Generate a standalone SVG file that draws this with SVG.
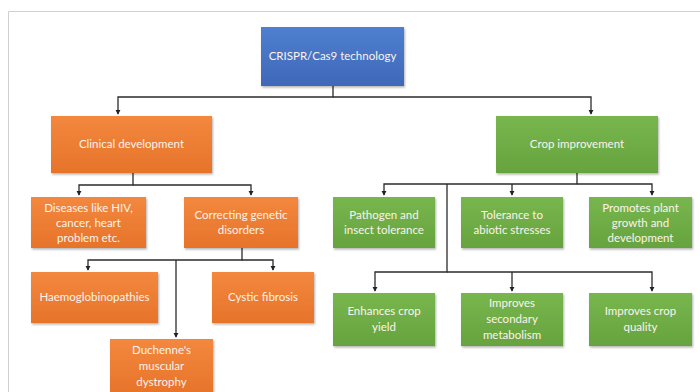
<svg xmlns="http://www.w3.org/2000/svg" width="700" height="392" viewBox="0 0 700 392">
<defs>
<marker id="ah" viewBox="0 0 6 6" refX="5" refY="3" markerWidth="4" markerHeight="4" orient="auto">
<path d="M0,0 L6,3 L0,6 z" fill="#222"/>
</marker>
<linearGradient id="gb" x1="0" y1="0" x2="0" y2="1"><stop offset="0" stop-color="#4f7fd0"/><stop offset="1" stop-color="#3f68b8"/></linearGradient>
<linearGradient id="go" x1="0" y1="0" x2="0" y2="1"><stop offset="0" stop-color="#f3883e"/><stop offset="1" stop-color="#e6732a"/></linearGradient>
<linearGradient id="gg" x1="0" y1="0" x2="0" y2="1"><stop offset="0" stop-color="#78b64e"/><stop offset="1" stop-color="#66a33e"/></linearGradient>
<filter id="sh" x="-10%" y="-10%" width="130%" height="140%"><feDropShadow dx="1" dy="1.5" stdDeviation="1" flood-color="#000" flood-opacity="0.3"/></filter>
</defs>
<style>
.b{fill:url(#gb);filter:url(#sh)}
.o{fill:url(#go);filter:url(#sh)}
.g{fill:url(#gg);filter:url(#sh)}
text{font-family:Lato,"Open Sans","Liberation Sans",sans-serif;font-size:11.5px;fill:#fbf3ec;text-anchor:middle}
.c path{fill:none;stroke:#2b2b2b;stroke-width:1.3}
</style>
<rect width="700" height="392" fill="#fff"/>
<path d="M8.5,392 V11.5 H700" fill="none" stroke="#d0d0d0" stroke-width="1"/>

<g class="c" id="connectors">
<path d="M333,86 V97 H118 V114" marker-end="url(#ah)"/>
<path d="M333,97 H591 V114" marker-end="url(#ah)"/>
<path d="M133,173 V185 H79 V195" marker-end="url(#ah)"/>
<path d="M133,185 H251 V195" marker-end="url(#ah)"/>
<path d="M242,248 V260 H88 V270" marker-end="url(#ah)"/>
<path d="M242,260 H273 V270" marker-end="url(#ah)"/>
<path d="M176,260 V337" marker-end="url(#ah)"/>
<path d="M577,173 V184 H384 V195" marker-end="url(#ah)"/>
<path d="M577,184 H652 V195" marker-end="url(#ah)"/>
<path d="M512,184 V195" marker-end="url(#ah)"/>
<path d="M447,184 V272 H375 V291" marker-end="url(#ah)"/>
<path d="M447,272 H652 V291" marker-end="url(#ah)"/>
<path d="M512,272 V291" marker-end="url(#ah)"/>
</g>

<g id="crispr"><rect class="b" x="261" y="27" width="143" height="59"/><text x="332.5" y="60">CRISPR/Cas9 technology</text></g>

<g id="clinical"><rect class="o" x="51" y="116" width="161" height="57"/><text x="131.5" y="148">Clinical development</text></g>
<g id="diseases"><rect class="o" x="31" y="197" width="115" height="51"/><text x="88.5" y="212">Diseases like HIV,</text><text x="88.5" y="227">cancer, heart</text><text x="88.5" y="242">problem etc.</text></g>
<g id="correcting"><rect class="o" x="184" y="197" width="114" height="51"/><text x="241" y="219">Correcting genetic</text><text x="241" y="234">disorders</text></g>
<g id="haemo"><rect class="o" x="31" y="272" width="127" height="51"/><text x="94.5" y="301">Haemoglobinopathies</text></g>
<g id="cystic"><rect class="o" x="212" y="272" width="102" height="51"/><text x="263" y="301">Cystic fibrosis</text></g>
<g id="duchenne"><rect class="o" x="110" y="339" width="103" height="56"/><text x="161.5" y="354">Duchenne's</text><text x="161.5" y="370">muscular</text><text x="161.5" y="386">dystrophy</text></g>

<g id="crop"><rect class="g" x="496" y="116" width="162" height="57"/><text x="577" y="148">Crop improvement</text></g>
<g id="pathogen"><rect class="g" x="333" y="197" width="102" height="51"/><text x="384" y="219">Pathogen and</text><text x="384" y="234">insect tolerance</text></g>
<g id="tolerance"><rect class="g" x="461" y="197" width="102" height="51"/><text x="512" y="219">Tolerance to</text><text x="512" y="234">abiotic stresses</text></g>
<g id="promotes"><rect class="g" x="589" y="197" width="103" height="51"/><text x="640.5" y="212">Promotes plant</text><text x="640.5" y="227">growth and</text><text x="640.5" y="242">development</text></g>
<g id="yield"><rect class="g" x="333" y="293" width="102" height="53"/><text x="384" y="315">Enhances crop</text><text x="384" y="331">yield</text></g>
<g id="secondary"><rect class="g" x="461" y="293" width="102" height="53"/><text x="512" y="307">Improves</text><text x="512" y="323">secondary</text><text x="512" y="339">metabolism</text></g>
<g id="quality"><rect class="g" x="589" y="293" width="103" height="53"/><text x="640.5" y="315">Improves crop</text><text x="640.5" y="331">quality</text></g>
</svg>
